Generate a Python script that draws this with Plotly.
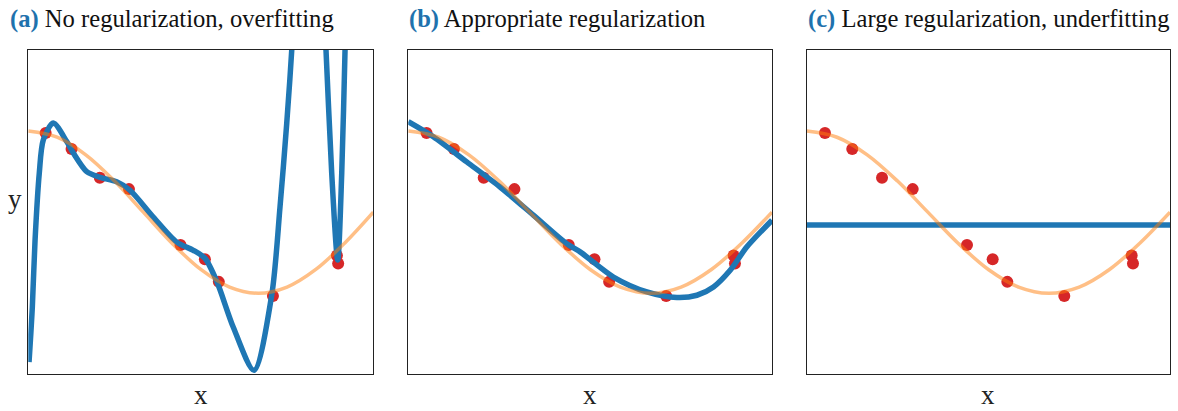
import plotly.graph_objects as go

# ---- data ----
pts_x = [0.237, 0.591, 0.977, 1.375, 2.079, 2.412, 2.602, 3.341, 4.215, 4.232]
pts_y = [0.975, 0.778, 0.423, 0.284, -0.404, -0.580, -0.860, -1.033, -0.535, -0.633]

true_x = [0.0, 0.393, 0.785, 1.178, 1.571, 1.963, 2.356, 2.749, 3.142, 3.534, 3.927, 4.320, 4.712]
true_y = [1.0, 0.924, 0.707, 0.383, 0.0, -0.383, -0.707, -0.924, -1.0, -0.924, -0.707, -0.383, 0.0]

over_x = [0.01, 0.055, 0.092, 0.150, 0.205, 0.341, 0.525, 0.615, 0.798, 0.979, 1.207, 1.389,
          1.707, 2.027, 2.254, 2.414, 2.577, 2.80, 3.083, 3.325, 3.438, 3.53, 3.598, 3.71,
          3.834, 3.957, 4.066, 4.144, 4.226, 4.281, 4.326, 4.367, 4.42]
over_y = [-1.85, -1.17, -0.35, 0.48, 0.89, 1.10, 0.87, 0.73, 0.50, 0.43, 0.375, 0.27,
          -0.06, -0.37, -0.47, -0.57, -0.86, -1.42, -1.95, -1.02, 0.065, 1.10, 2.0, 4.0,
          5.0, 4.0, 2.0, 0.48, -0.59, 0.48, 2.0, 3.5, 6.0]

good_x = [0.0, 0.324, 0.757, 1.189, 1.62, 2.053, 2.226, 2.658, 3.091, 3.48, 3.739, 3.954,
          4.17, 4.387, 4.712]
good_y = [1.115, 0.93, 0.62, 0.31, -0.037, -0.39, -0.49, -0.80, -0.984, -1.053, -1.025, -0.922,
          -0.716, -0.428, -0.10]

under_x = [0.0, 4.712]
under_y = [-0.16, -0.16]

x_range = [0.0, 4.712]
y_range = [-2.0, 2.0]

panels = [
    ("(a)", " No regularization, overfitting", over_x, over_y),
    ("(b)", " Appropriate regularization", good_x, good_y),
    ("(c)", " Large regularization, underfitting", under_x, under_y),
]

W, H = 1178, 411
frame_px = [(28.3, 373.3), (408.3, 772.0), (806.7, 1170.0)]
top_px, bot_px = 50.0, 374.3

BLUE = "#1f77b4"
ORANGE = "rgba(255,127,14,0.5)"
RED = "#d62728"
FONT = "Liberation Serif"

fig = go.Figure()
for i, (lab, title, fx, fy) in enumerate(panels):
    n = "" if i == 0 else str(i + 1)
    xa, ya = "x" + n, "y" + n
    fig.add_trace(go.Scatter(x=pts_x, y=pts_y, mode="markers", xaxis=xa, yaxis=ya,
                             marker=dict(color=RED, size=12, line=dict(width=0)),
                             showlegend=False, hoverinfo="skip"))
    fig.add_trace(go.Scatter(x=fx, y=fy, mode="lines", xaxis=xa, yaxis=ya,
                             line=dict(color=BLUE, width=5.5, shape="spline", smoothing=0.8),
                             showlegend=False, hoverinfo="skip"))
    fig.add_trace(go.Scatter(x=true_x, y=true_y, mode="lines", xaxis=xa, yaxis=ya,
                             line=dict(color=ORANGE, width=3.5, shape="spline"),
                             showlegend=False, hoverinfo="skip"))
    l, r = frame_px[i]
    axcommon = dict(showticklabels=False, ticks="", showgrid=False, zeroline=False,
                    showline=True, mirror=True, linecolor="#222", linewidth=1.2,
                    fixedrange=True)
    fig.layout["xaxis" + n] = dict(domain=[l / W, r / W], range=x_range, anchor=ya, **axcommon)
    fig.layout["yaxis" + n] = dict(domain=[1 - bot_px / H, 1 - top_px / H], range=y_range,
                                   anchor=xa, **axcommon)
    tx = 8 if i == 0 else l - 1
    fig.add_annotation(xref="paper", yref="paper", x=tx / W, y=1 - 18.5 / H,
                       xanchor="left", yanchor="middle", showarrow=False,
                       text=f"<b><span style='color:#1f72ad'>{lab}</span></b>{title}",
                       font=dict(family=FONT, size=24.6, color="#111"))
    fig.add_annotation(xref="paper", yref="paper", x=((l + r) / 2) / W, y=1 - 395 / H,
                       xanchor="center", yanchor="middle", showarrow=False, text="x",
                       font=dict(family=FONT, size=27, color="#222"))

fig.add_annotation(xref="paper", yref="paper", x=15 / W, y=1 - 199 / H,
                   xanchor="center", yanchor="middle", showarrow=False, text="y",
                   font=dict(family=FONT, size=27, color="#222"))

fig.update_layout(width=W, height=H, margin=dict(l=0, r=0, t=0, b=0),
                  paper_bgcolor="white", plot_bgcolor="white")
fig.write_html("out.html", config={"displayModeBar": False},
               post_script="document.body.style.margin='0';document.body.style.overflow='hidden';")
